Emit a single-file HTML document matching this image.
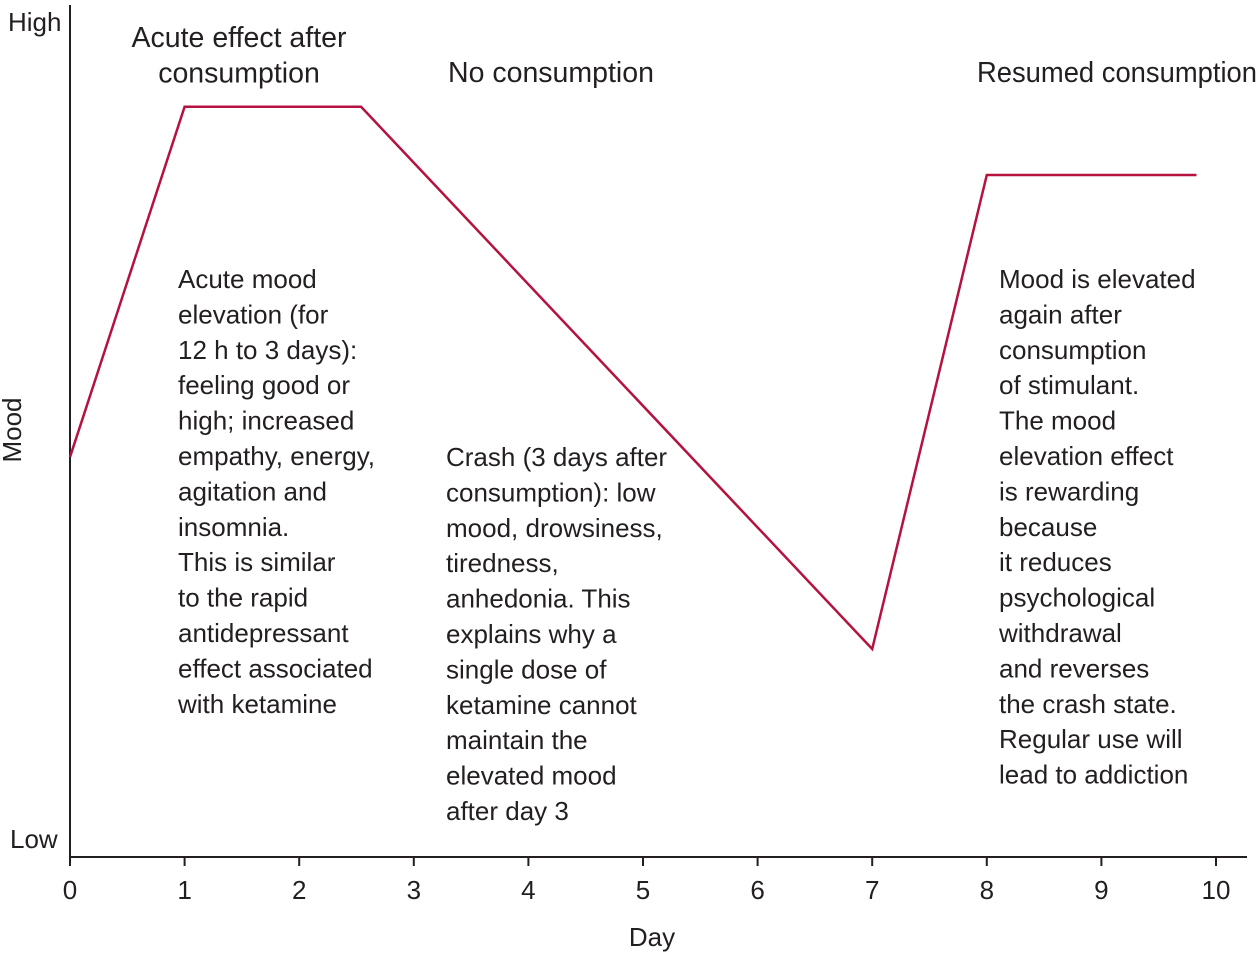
<!DOCTYPE html>
<html><head><meta charset="utf-8"><style>
body{margin:0;background:#fff;}
svg text{font-family:"Liberation Sans Narrow","Liberation Sans",sans-serif;fill:#231f20;}
</style></head><body>
<svg width="1259" height="952" viewBox="0 0 1259 952" xmlns="http://www.w3.org/2000/svg">
<g id="axes"></g>
<g id="series"></g>
<g id="notes" font-size="26"></g>
</svg>
<script>
const days=[0,1,2,3,4,5,6,7,8,9,10];
const tickLabels=["0","1","2","3","4","5","6","7","8","9","10"];
const lineDays=[0,1,2.54,7,8,9.83];
const lineMood=[0.475,0.891,0.891,0.247,0.81,0.81];
const NS="http://www.w3.org/2000/svg";
const X0=70,DX=114.6,Y0=857,Y1=15;
const xs=d=>X0+d*DX;
const ys=m=>Y0-m*(Y0-Y1);
function mk(tag,attrs,parent,text){const e=document.createElementNS(NS,tag);for(const k in attrs)e.setAttribute(k,attrs[k]);if(text!==undefined)e.textContent=text;parent.appendChild(e);return e;}
const ax=document.getElementById('axes');
let e=mk('line',{x1:X0,y1:5,x2:X0,y2:Y0,stroke:'#231f20','stroke-width':2},ax);


e=mk('line',{x1:X0-1,y1:Y0,x2:1247,y2:Y0,stroke:'#231f20','stroke-width':2},ax);


days.forEach((d,i)=>{
 let t=mk('line',{x1:xs(d),y1:Y0,x2:xs(d),y2:Y0+9,stroke:'#231f20','stroke-width':2},ax);
 
 
 let l=mk('text',{x:xs(d),y:899,'font-size':26,'text-anchor':'middle'},ax,tickLabels[i]);
 
 
});
e=mk('text',{x:652,y:946,'font-size':26,'text-anchor':'middle'},ax,'Day');


e=mk('text',{x:0,y:0,'font-size':26,'text-anchor':'middle',transform:'translate(21,430) rotate(-90)'},ax,'Mood');


e=mk('text',{x:8,y:31,'font-size':26},ax,'High');


e=mk('text',{x:10,y:848,'font-size':26},ax,'Low');


const pts=lineDays.map((d,i)=>xs(d)+','+ys(lineMood[i])).join(' ');
e=mk('polyline',{points:pts,fill:'none',stroke:'#b5123f','stroke-width':2.5},document.getElementById('series'));


const notes=document.getElementById('notes');
function block(name,x,y,lines,anchor,fs,tl){const t=mk('text',{x:x,y:y,'text-anchor':anchor||'start'},notes);
 if(fs)t.setAttribute('font-size',fs);
 if(tl){t.setAttribute('textLength',tl);t.setAttribute('lengthAdjust','spacingAndGlyphs');}
 
 
 if(tl){t.textContent=lines[0];return;}
 lines.forEach((s,i)=>mk('tspan',{x:x,dy:i?35.4:0},t,s));}
block('acute-heading',239,47,['Acute effect after','consumption'],'middle',28.5);
block('no-consumption-heading',448,82,['No consumption'],'start',28.5);
block('resumed-heading',977,82,['Resumed consumption'],'start',28.5,280);
block('acute-note',178,288,['Acute mood','elevation (for','12 h to 3 days):','feeling good or','high; increased','empathy, energy,','agitation and','insomnia.','This is similar','to the rapid','antidepressant','effect associated','with ketamine']);
block('crash-note',446,466,['Crash (3 days after','consumption): low','mood, drowsiness,','tiredness,','anhedonia. This','explains why a','single dose of','ketamine cannot','maintain the','elevated mood','after day 3']);
block('resumed-note',999,288,['Mood is elevated','again after','consumption','of stimulant.','The mood','elevation effect','is rewarding','because','it reduces','psychological','withdrawal','and reverses','the crash state.','Regular use will','lead to addiction']);
</script>
</body></html>
